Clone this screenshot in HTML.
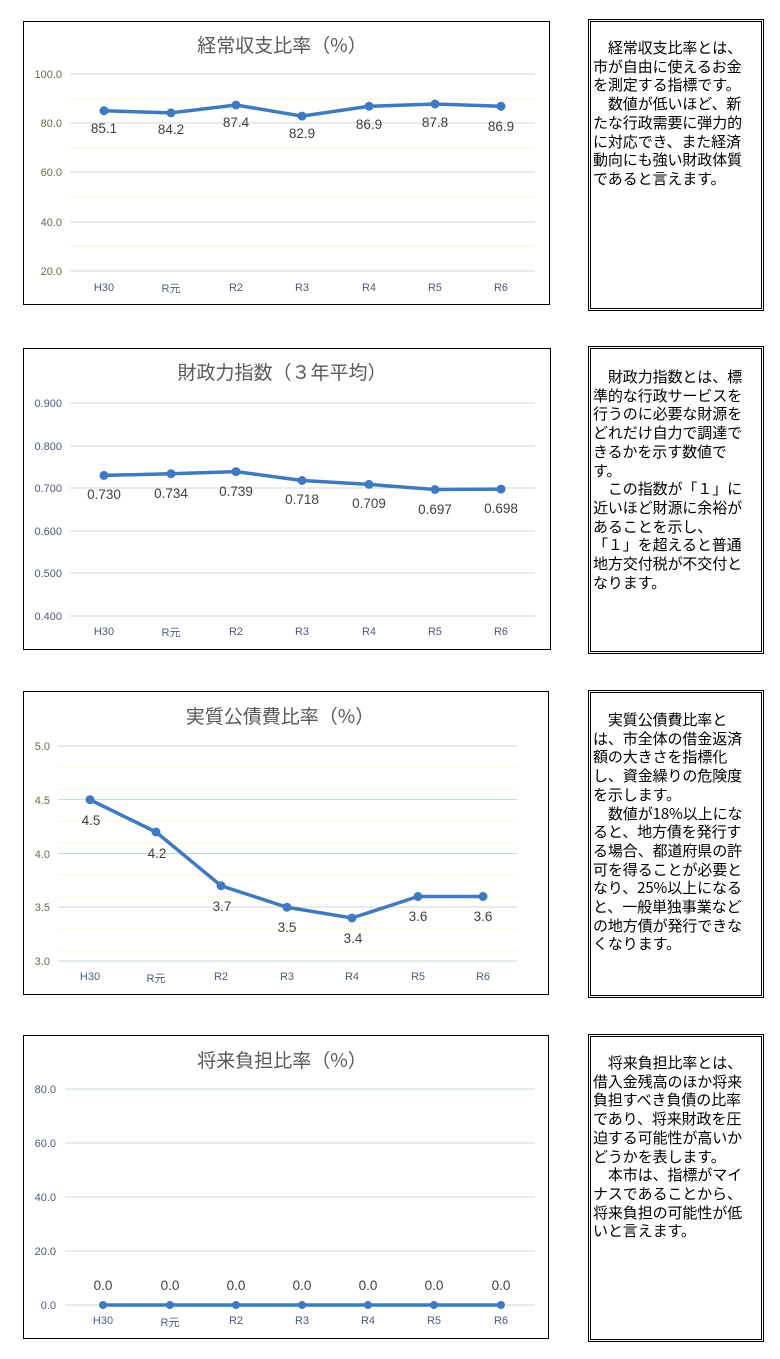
<!DOCTYPE html>
<html><head><meta charset="utf-8"><style>
body{margin:0;width:780px;height:1359px;background:#fff;position:relative;font-family:"Liberation Sans","Noto Sans CJK JP",sans-serif;}
svg{position:absolute;left:0;top:0}
.box{position:absolute;left:588px;width:168px;border:3px double #000;box-sizing:content-box;font-size:15px;line-height:18.7px;color:#000;padding:0 0 0 2px;letter-spacing:-0.1px;font-family:"Noto Sans CJK JP",sans-serif;}
.box p{margin:0;white-space:pre}
</style></head><body>
<svg width="780" height="1359" xmlns="http://www.w3.org/2000/svg" font-family="Liberation Sans Narrow, Liberation Sans, Noto Sans CJK JP, sans-serif">
<!-- Chart 1 -->
<rect x="23.5" y="21.5" width="526" height="283" fill="#fff" stroke="#000"/>
<text x="282" y="52" font-size="19" fill="#595959" text-anchor="middle" font-family="Noto Sans CJK JP, sans-serif">経常収支比率（%）</text>
<g stroke="#fbf3df"><line x1="70" x2="535" y1="99" y2="99"/><line x1="70" x2="535" y1="148" y2="148"/><line x1="70" x2="535" y1="197" y2="197"/><line x1="70" x2="535" y1="246" y2="246"/></g>
<g stroke="#c5dfc5"><line x1="70" x2="535" y1="74" y2="74"/><line x1="70" x2="535" y1="123" y2="123"/><line x1="70" x2="535" y1="172" y2="172"/><line x1="70" x2="535" y1="222" y2="222"/><line x1="70" x2="535" y1="271" y2="271"/></g>
<g font-size="11" fill="#6b6b4f" text-anchor="end"><text x="62" y="78">100.0</text><text x="62" y="127">80.0</text><text x="62" y="176">60.0</text><text x="62" y="226">40.0</text><text x="62" y="275">20.0</text></g>
<g font-size="11" fill="#4d5a80" text-anchor="middle"><text x="104" y="291">H30</text><text x="171" y="292">R元</text><text x="236" y="291">R2</text><text x="302" y="291">R3</text><text x="369" y="291">R4</text><text x="435" y="291">R5</text><text x="501" y="291">R6</text></g>
<polyline fill="none" stroke="#3f7abf" stroke-width="3.5" points="104,110.7 171,112.9 236,105 302,116.1 369,106.3 435,104 501,106.3"/>
<g fill="#3f7abf"><circle cx="104" cy="110.7" r="4.5"/><circle cx="171" cy="112.9" r="4.5"/><circle cx="236" cy="105" r="4.5"/><circle cx="302" cy="116.1" r="4.5"/><circle cx="369" cy="106.3" r="4.5"/><circle cx="435" cy="104" r="4.5"/><circle cx="501" cy="106.3" r="4.5"/></g>
<g font-size="13.5" fill="#404040" text-anchor="middle"><text x="104" y="133">85.1</text><text x="171" y="134">84.2</text><text x="236" y="127">87.4</text><text x="302" y="138">82.9</text><text x="369" y="129">86.9</text><text x="435" y="127">87.8</text><text x="501" y="131">86.9</text></g>

<!-- Chart 2 -->
<rect x="23.5" y="348.5" width="527" height="301" fill="#fff" stroke="#000"/>
<text x="282" y="379" font-size="19" fill="#595959" text-anchor="middle" font-family="Noto Sans CJK JP, sans-serif">財政力指数（３年平均）</text>
<g stroke="#c5dfc5"><line x1="70" x2="535" y1="403" y2="403"/><line x1="70" x2="535" y1="446" y2="446"/><line x1="70" x2="535" y1="488" y2="488"/><line x1="70" x2="535" y1="531" y2="531"/><line x1="70" x2="535" y1="573" y2="573"/><line x1="70" x2="535" y1="616" y2="616"/></g>
<g font-size="11" fill="#4d5a80" text-anchor="end"><text x="62" y="407">0.900</text><text x="62" y="450">0.800</text><text x="62" y="492">0.700</text><text x="62" y="535">0.600</text><text x="62" y="577">0.500</text><text x="62" y="620">0.400</text></g>
<g font-size="11" fill="#4d5a80" text-anchor="middle"><text x="104" y="635">H30</text><text x="171" y="636">R元</text><text x="236" y="635">R2</text><text x="302" y="635">R3</text><text x="369" y="635">R4</text><text x="435" y="635">R5</text><text x="501" y="635">R6</text></g>
<polyline fill="none" stroke="#3f7abf" stroke-width="3.5" points="104,475.4 171,473.7 236,471.6 302,480.5 369,484.4 435,489.5 501,489.1"/>
<g fill="#3f7abf"><circle cx="104" cy="475.4" r="4.5"/><circle cx="171" cy="473.7" r="4.5"/><circle cx="236" cy="471.6" r="4.5"/><circle cx="302" cy="480.5" r="4.5"/><circle cx="369" cy="484.4" r="4.5"/><circle cx="435" cy="489.5" r="4.5"/><circle cx="501" cy="489.1" r="4.5"/></g>
<g font-size="13.5" fill="#404040" text-anchor="middle"><text x="104" y="499">0.730</text><text x="171" y="498">0.734</text><text x="236" y="496">0.739</text><text x="302" y="504">0.718</text><text x="369" y="508">0.709</text><text x="435" y="514">0.697</text><text x="501" y="513">0.698</text></g>

<!-- Chart 3 -->
<rect x="23.5" y="691.5" width="525" height="303" fill="#fff" stroke="#000"/>
<text x="280" y="723" font-size="19" fill="#595959" text-anchor="middle" font-family="Noto Sans CJK JP, sans-serif">実質公債費比率（%）</text>
<g stroke="#fbf3df"><line x1="58" x2="517" y1="767" y2="767"/><line x1="58" x2="517" y1="789" y2="789"/><line x1="58" x2="517" y1="821" y2="821"/><line x1="58" x2="517" y1="843" y2="843"/><line x1="58" x2="517" y1="875" y2="875"/><line x1="58" x2="517" y1="897" y2="897"/><line x1="58" x2="517" y1="929" y2="929"/><line x1="58" x2="517" y1="951" y2="951"/></g>
<g stroke="#c5dfc5"><line x1="58" x2="517" y1="746" y2="746"/><line x1="58" x2="517" y1="799.5" y2="799.5"/><line x1="58" x2="517" y1="853.5" y2="853.5"/><line x1="58" x2="517" y1="907" y2="907"/><line x1="58" x2="517" y1="961" y2="961"/></g>
<g font-size="11" fill="#6b6b4f" text-anchor="end"><text x="50" y="750">5.0</text><text x="50" y="804">4.5</text><text x="50" y="858">4.0</text><text x="50" y="911">3.5</text><text x="50" y="965">3.0</text></g>
<g font-size="11" fill="#4d5a80" text-anchor="middle"><text x="90" y="980">H30</text><text x="156" y="982">R元</text><text x="221" y="980">R2</text><text x="287" y="980">R3</text><text x="352" y="980">R4</text><text x="418" y="980">R5</text><text x="483" y="980">R6</text></g>
<polyline fill="none" stroke="#3f7abf" stroke-width="3.5" points="90,799.75 156,832 221,885.75 287,907.25 352,918 418,896.5 483,896.5"/>
<g fill="#3f7abf"><circle cx="90" cy="799.75" r="4.5"/><circle cx="156" cy="832" r="4.5"/><circle cx="221" cy="885.75" r="4.5"/><circle cx="287" cy="907.25" r="4.5"/><circle cx="352" cy="918" r="4.5"/><circle cx="418" cy="896.5" r="4.5"/><circle cx="483" cy="896.5" r="4.5"/></g>
<g font-size="13.5" fill="#404040" text-anchor="middle"><text x="91" y="825">4.5</text><text x="157" y="858">4.2</text><text x="222" y="911">3.7</text><text x="287" y="932">3.5</text><text x="353" y="943">3.4</text><text x="418" y="921">3.6</text><text x="483" y="921">3.6</text></g>

<!-- Chart 4 -->
<rect x="23.5" y="1035.5" width="525" height="303" fill="#fff" stroke="#000"/>
<text x="282" y="1067" font-size="19" fill="#595959" text-anchor="middle" font-family="Noto Sans CJK JP, sans-serif">将来負担比率（%）</text>
<g stroke="#c5dfc5"><line x1="65" x2="535" y1="1089" y2="1089"/><line x1="65" x2="535" y1="1143" y2="1143"/><line x1="65" x2="535" y1="1197" y2="1197"/><line x1="65" x2="535" y1="1251" y2="1251"/><line x1="65" x2="535" y1="1305" y2="1305"/></g>
<g font-size="11" fill="#4d5a80" text-anchor="end"><text x="56" y="1093">80.0</text><text x="56" y="1147">60.0</text><text x="56" y="1201">40.0</text><text x="56" y="1255">20.0</text><text x="56" y="1309">0.0</text></g>
<g font-size="11" fill="#4d5a80" text-anchor="middle"><text x="103" y="1324">H30</text><text x="170" y="1326">R元</text><text x="236" y="1324">R2</text><text x="302" y="1324">R3</text><text x="368" y="1324">R4</text><text x="434" y="1324">R5</text><text x="501" y="1324">R6</text></g>
<polyline fill="none" stroke="#3f7abf" stroke-width="3.5" points="103,1305 170,1305 236,1305 302,1305 368,1305 434,1305 501,1305"/>
<g fill="#3f7abf"><circle cx="103" cy="1305" r="4"/><circle cx="170" cy="1305" r="4"/><circle cx="236" cy="1305" r="4"/><circle cx="302" cy="1305" r="4"/><circle cx="368" cy="1305" r="4"/><circle cx="434" cy="1305" r="4"/><circle cx="501" cy="1305" r="4"/></g>
<g font-size="13.5" fill="#404040" text-anchor="middle"><text x="103" y="1290">0.0</text><text x="170" y="1290">0.0</text><text x="236" y="1290">0.0</text><text x="302" y="1290">0.0</text><text x="368" y="1290">0.0</text><text x="434" y="1290">0.0</text><text x="501" y="1290">0.0</text></g>
</svg>

<div class="box" style="top:19px;padding-top:17px;height:269px"><p>　経常収支比率とは、
市が自由に使えるお金
を測定する指標です。
　数値が低いほど、新
たな行政需要に弾力的
に対応でき、また経済
動向にも強い財政体質
であると言えます。</p></div>
<div class="box" style="top:346px;padding-top:19px;height:283px"><p>　財政力指数とは、標
準的な行政サービスを
行うのに必要な財源を
どれだけ自力で調達で
きるかを示す数値で
す。
　この指数が「１」に
近いほど財源に余裕が
あることを示し、
「１」を超えると普通
地方交付税が不交付と
なります。</p></div>
<div class="box" style="top:690px;padding-top:18px;height:284px"><p>　実質公債費比率と
は、市全体の借金返済
額の大きさを指標化
し、資金繰りの危険度
を示します。
　数値が18%以上にな
ると、地方債を発行す
る場合、都道府県の許
可を得ることが必要と
なり、25%以上になる
と、一般単独事業など
の地方債が発行できな
くなります。</p></div>
<div class="box" style="top:1034px;padding-top:17px;height:285px"><p>　将来負担比率とは、
借入金残高のほか将来
負担すべき負債の比率
であり、将来財政を圧
迫する可能性が高いか
どうかを表します。
　本市は、指標がマイ
ナスであることから、
将来負担の可能性が低
いと言えます。</p></div>
</body></html>
